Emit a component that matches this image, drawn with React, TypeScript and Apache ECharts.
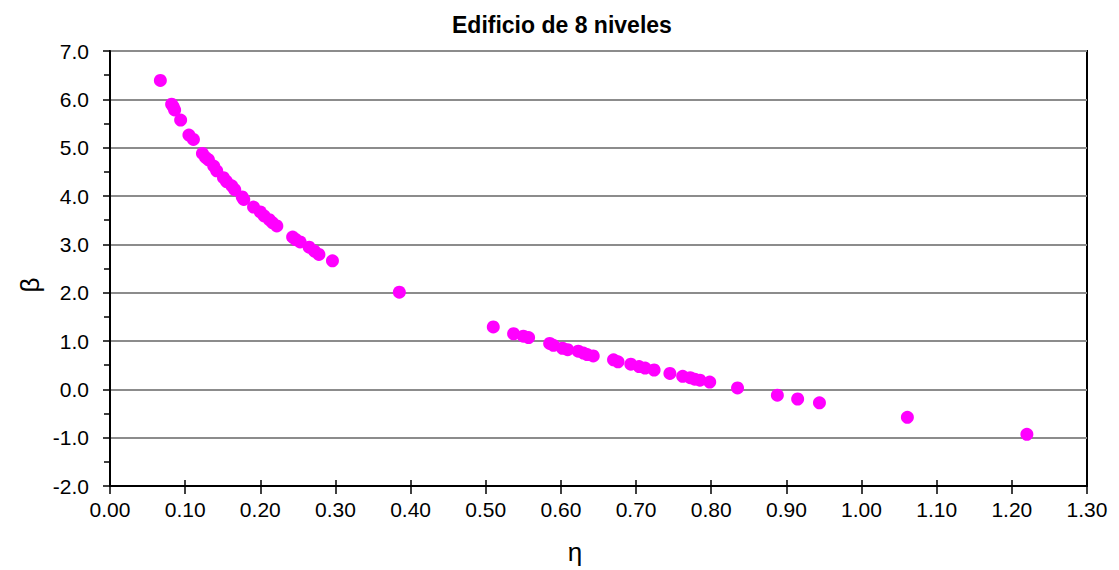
import React, { useEffect, useRef } from "react";
import * as echarts from "echarts";

// η (x) and β (y) for each analysed case of the 8-storey building
const etaValues = [
  0.067, 0.082, 0.084, 0.086, 0.094, 0.105, 0.111, 0.123, 0.127, 0.131,
  0.138, 0.142, 0.151, 0.155, 0.162, 0.166, 0.176, 0.178, 0.191, 0.2,
  0.205, 0.212, 0.216, 0.222, 0.243, 0.247, 0.253, 0.265, 0.272, 0.278,
  0.296, 0.385, 0.51, 0.537, 0.55, 0.557, 0.585, 0.59, 0.602, 0.609,
  0.623, 0.63, 0.635, 0.643, 0.67, 0.676, 0.693, 0.704, 0.712, 0.724,
  0.745, 0.762, 0.772, 0.778, 0.785, 0.798, 0.835, 0.888, 0.915, 0.944,
  1.061, 1.22,
];
const betaValues = [
  6.39, 5.9, 5.85, 5.78, 5.57, 5.26, 5.17, 4.88, 4.8, 4.75,
  4.62, 4.52, 4.38, 4.3, 4.21, 4.13, 3.98, 3.93, 3.77, 3.67,
  3.59, 3.51, 3.45, 3.38, 3.15, 3.1, 3.05, 2.94, 2.86, 2.79,
  2.66, 2.01, 1.29, 1.15, 1.1, 1.07, 0.95, 0.91, 0.85, 0.82,
  0.79, 0.75, 0.72, 0.69, 0.61, 0.57, 0.52, 0.47, 0.44, 0.4,
  0.33, 0.27, 0.24, 0.21, 0.19, 0.15, 0.03, -0.12, -0.2, -0.28,
  -0.58, -0.93,
];

const chartTitle = "Edificio de 8 niveles";
const xName = "η";
const yName = "β";

const FONT = "'Liberation Sans', Arial, sans-serif";

export default function App() {
  const ref = useRef<HTMLDivElement | null>(null);

  useEffect(() => {
    if (!ref.current) return;
    const chart = echarts.init(ref.current, undefined, { renderer: "svg" });
    const points = etaValues.map((x, i) => [x, betaValues[i]]);

    chart.setOption({
      animation: false,
      backgroundColor: "#ffffff",
      textStyle: { fontFamily: FONT },
      title: {
        text: chartTitle,
        left: 447,
        top: 8,
        textStyle: { fontFamily: FONT, fontSize: 23, fontWeight: "bold", color: "#000" },
      },
      grid: {
        left: 110,
        right: 32,
        top: 51,
        bottom: 84,
        containLabel: false,
        outerBoundsMode: "none",
        show: true,
        borderColor: "#000",
        borderWidth: 2,
        backgroundColor: "transparent",
      },
      // axis titles
      graphic: [
        {
          type: "text",
          x: 575,
          y: 552,
          style: {
            text: xName,
            font: `26px ${FONT}`,
            fill: "#000",
            align: "center",
            verticalAlign: "middle",
          },
        },
        {
          type: "text",
          x: 30,
          y: 285,
          rotation: Math.PI / 2,
          style: {
            text: yName,
            font: `26px ${FONT}`,
            fill: "#000",
            align: "center",
            verticalAlign: "middle",
          },
        },
      ],
      xAxis: [
        {
          type: "value",
          min: 0,
          max: 1.3,
          interval: 0.1,
          axisLine: { show: true, onZero: false, lineStyle: { color: "#000", width: 2 } },
          axisTick: { show: true, length: 8, lineStyle: { color: "#000", width: 1.5 } },
          axisLabel: {
            fontFamily: FONT,
            fontSize: 21,
            color: "#000",
            margin: 13,
            formatter: (v: number) => v.toFixed(2),
          },
          splitLine: { show: false },
        },
        {
          type: "value",
          min: 0,
          max: 1.3,
          interval: 0.1,
          position: "bottom",
          axisLine: { show: false, onZero: false },
          axisTick: { show: true, inside: true, length: 6, lineStyle: { color: "#000", width: 1.5 } },
          axisLabel: { show: false },
          splitLine: { show: false },
        },
      ],
      yAxis: {
        type: "value",
        min: -2,
        max: 7,
        interval: 1,
        axisLine: { show: true, onZero: false, lineStyle: { color: "#000", width: 2 } },
        axisTick: { show: true, length: 7, lineStyle: { color: "#000", width: 1.5 } },
        minorTick: { show: true, splitNumber: 2, length: 6, lineStyle: { color: "#000", width: 1.5 } },
        axisLabel: {
          fontFamily: FONT,
          fontSize: 21,
          color: "#000",
          margin: 21,
          formatter: (v: number) => v.toFixed(1),
        },
        splitLine: { show: true, lineStyle: { color: "#8c8c8c", width: 2 } },
      },
      series: [
        {
          type: "scatter",
          xAxisIndex: 0,
          data: points,
          symbol: "circle",
          symbolSize: 13,
          itemStyle: { color: "#ff00ff", opacity: 1 },
          emphasis: { disabled: true },
        },
      ],
    });

    return () => chart.dispose();
  }, []);

  return (
    <div
      ref={ref}
      style={{ position: "fixed", left: 0, top: 0, width: 1119, height: 570 }}
    />
  );
}
